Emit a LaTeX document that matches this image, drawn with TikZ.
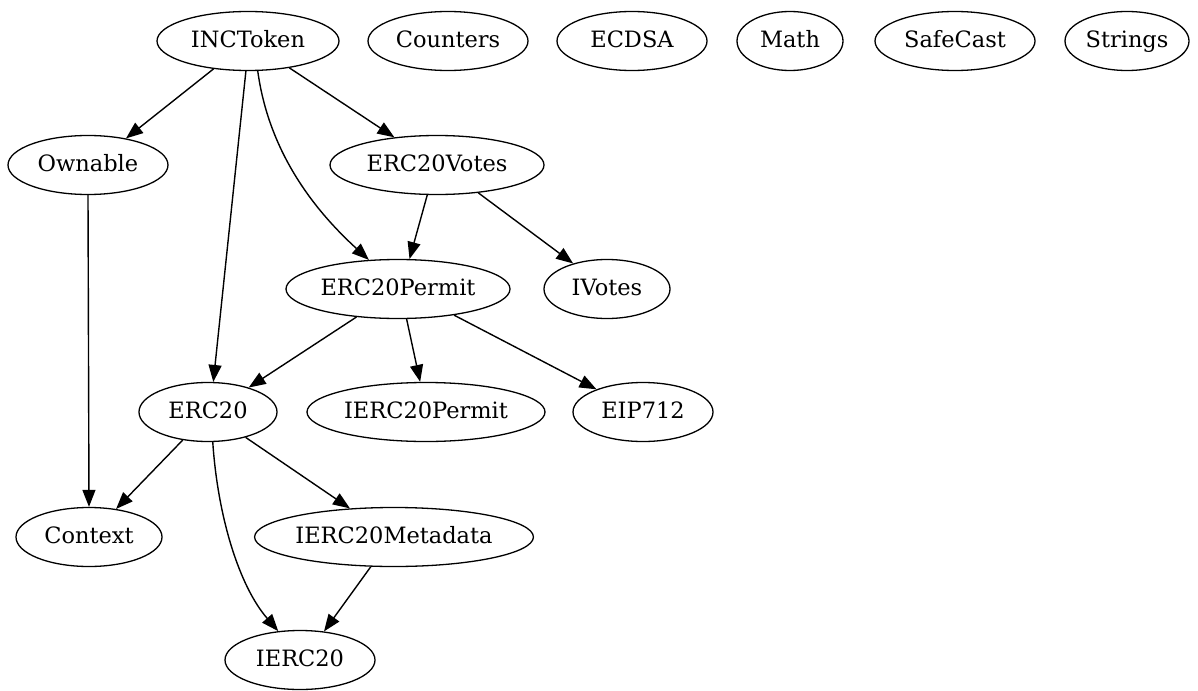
\documentclass[tikz,border=0pt]{standalone}
\usepackage{fontspec}
\setmainfont{DejaVu Serif}
\usetikzlibrary{shapes.geometric,arrows.meta}
\begin{document}
\begin{tikzpicture}[x=1pt,y=-1pt,
  nd/.style={draw,ellipse,line width=1.3pt,inner sep=0pt,minimum height=59pt,text height=17pt,text depth=4pt,font=\fontsize{22.5}{26}\selectfont},
  edge/.style={line width=1.4pt,-{Triangle[length=17pt,width=13pt]}}]
\useasboundingbox (0,0) rectangle (1198,690);
\node[nd,minimum width=182] (inc) at (248,41) {INCToken};
\node[nd,minimum width=160] (counters) at (448,41) {Counters};
\node[nd,minimum width=150] (ecdsa) at (632,41) {ECDSA};
\node[nd,minimum width=106] (math) at (790,41) {Math};
\node[nd,minimum width=160] (safecast) at (955,41) {SafeCast};
\node[nd,minimum width=124] (strings) at (1127,41) {Strings};
\node[nd,minimum width=160] (ownable) at (88,165) {Ownable};
\node[nd,minimum width=214] (votes) at (437,165) {ERC20Votes};
\node[nd,minimum width=224] (permit) at (398,289) {ERC20Permit};
\node[nd,minimum width=126] (ivotes) at (607,289) {IVotes};
\node[nd,minimum width=138] (erc20) at (208,412) {ERC20};
\node[nd,minimum width=238] (ipermit) at (426,412) {IERC20Permit};
\node[nd,minimum width=140] (eip) at (643,412) {EIP712};
\node[nd,minimum width=146] (context) at (89,537) {Context};
\node[nd,minimum width=272] (meta) at (394,537) {IERC20Metadata};
\node[nd,minimum width=150] (ierc20) at (300,660) {IERC20};
\draw[edge] (inc.219) -- (ownable.35);
\draw[edge] (inc.266) -- (erc20.80);
\draw[edge] (inc.288) .. controls +(12,88) and +(-47,-43) .. (permit.135);
\draw[edge] (inc.327) -- (votes.147);
\draw[edge] (votes.252) -- (permit.69);
\draw[edge] (votes.326) -- (ivotes.143);
\draw[edge] (permit.214) -- (erc20.31);
\draw[edge] (permit.286) -- (ipermit.101);
\draw[edge] (permit.335) -- (eip.154);
\draw[edge] (ownable.270) -- (context.90);
\draw[edge] (erc20.228) -- (context.46);
\draw[edge] (erc20.326) -- (meta.147);
\draw[edge] (erc20.279) .. controls +(5,75) and +(-39,-45) .. (ierc20.127);
\draw[edge] (meta.232) -- (ierc20.50);
\end{tikzpicture}
\end{document}
